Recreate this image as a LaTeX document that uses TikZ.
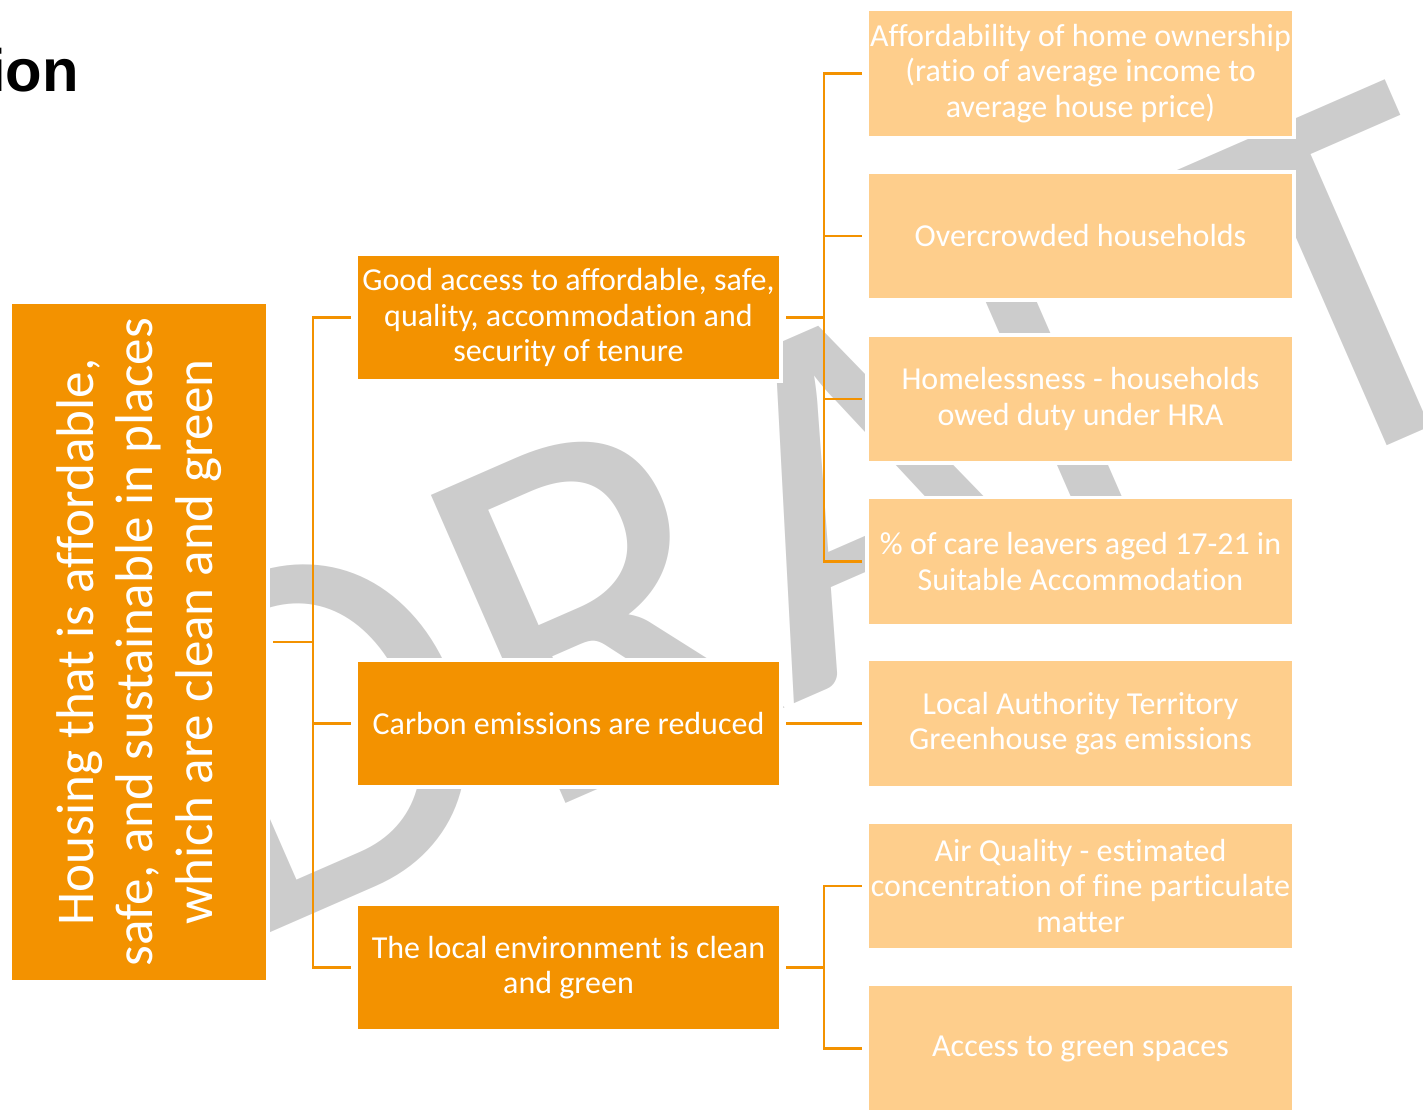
\documentclass[tikz,border=0pt]{standalone}
\usepackage{fontspec}
\setmainfont[Ligatures={NoCommon}]{Carlito}
\newfontfamily\headfont{Liberation Sans}
\usetikzlibrary{positioning,calc}

\definecolor{goalorange}{HTML}{F39200}
\definecolor{measure}{HTML}{FECE8C}
\definecolor{watermark}{HTML}{CCCCCC}

\begin{document}
\begin{tikzpicture}[x=0.01cm, y=-0.01cm]
            \tikzstyle{goal}=[rectangle, fill=goalorange, draw=white,
            line width=1pt, outer sep=1.5pt, text=white,
            align=center, inner sep=0pt]
            \tikzstyle{outcome}=[rectangle, fill=goalorange, draw=white,
            line width=1pt, outer sep=1.5pt, text=white, align=center,
            inner xsep=0pt, minimum width=4.25cm, minimum height=1.27cm,
            font=\fontsize{9.1}{10.1}\selectfont]
            \tikzstyle{indicator}=[rectangle, fill=measure, draw=white,
            line width=1pt, outer sep=1.5pt, text=white, align=center,
            inner xsep=0pt, minimum width=4.27cm, minimum height=1.28cm,
            font=\fontsize{9.1}{10.1}\selectfont]
            \tikzstyle{link}=[draw=goalorange, line width=0.75pt]

            \useasboundingbox (0,0) rectangle (1423,1110);

            % watermark
            \node[anchor=base west, rotate=23.6, text=watermark,
              inner sep=0pt, font=\fontsize{149}{149}\selectfont]
              (draft) at (236,948) {DRAFT};

            % cut title
            \node[anchor=base east, inner sep=0pt,
              font=\headfont\bfseries\fontsize{17}{20}\selectfont]
              (title) at (79.5,92) {ion};

            \node[goal, rotate=90, minimum width=6.8cm, minimum height=2.58cm,
              font=\fontsize{15.1}{17}\selectfont] (hsg) at (139,642)
              {Housing that is affordable,\\ safe, and sustainable in places\\ which are clean and green};

            \node[outcome] (acc) at (568.5,317.5)
              {Good access to affordable, safe,\\ quality, accommodation and\\ security of tenure};
            \node[outcome] (carb) at (568.5,723.5) {Carbon emissions are reduced};
            \node[outcome] (env) at (568.5,967.5)
              {The local environment is clean\\ and green};

            \node[indicator] (own) at (1080.5,73.5)
              {Affordability of home ownership\\ (ratio of average income to\\ average house price)};
            \node[indicator] (crowd) at (1080.5,236) {Overcrowded households};
            \node[indicator] (home) at (1080.5,399)
              {Homelessness - households\\ owed duty under HRA};
            \node[indicator] (care) at (1080.5,561.5)
              {\% of care leavers aged 17-21 in\\ Suitable Accommodation};
            \node[indicator] (ghg) at (1080.5,723.5)
              {Local Authority Territory\\ Greenhouse gas emissions};
            \node[indicator] (air) at (1080.5,886)
              {Air Quality - estimated\\ concentration of fine particulate\\ matter};
            \node[indicator] (green) at (1080.5,1048.5) {Access to green spaces};

            \coordinate (j0) at (313,642);
            \coordinate (j1) at (824,317.5);
            \coordinate (j3) at (824,967.5);

            \path[link] (hsg.south) -- (j0);
            \path[link] (j0) |- (acc.west);
            \path[link] (j0) |- (carb.west);
            \path[link] (j0) |- (env.west);

            \path[link] (acc.east) -- (j1);
            \path[link] (j1) |- (own.west);
            \path[link] (j1) |- (crowd.west);
            \path[link] (j1) |- (home.west);
            \path[link] (j1) |- (care.west);

            \path[link] (carb) -- (ghg);

            \path[link] (env.east) -- (j3);
            \path[link] (j3) |- (air.west);
            \path[link] (j3) |- (green.west);
        \end{tikzpicture}
\end{document}
